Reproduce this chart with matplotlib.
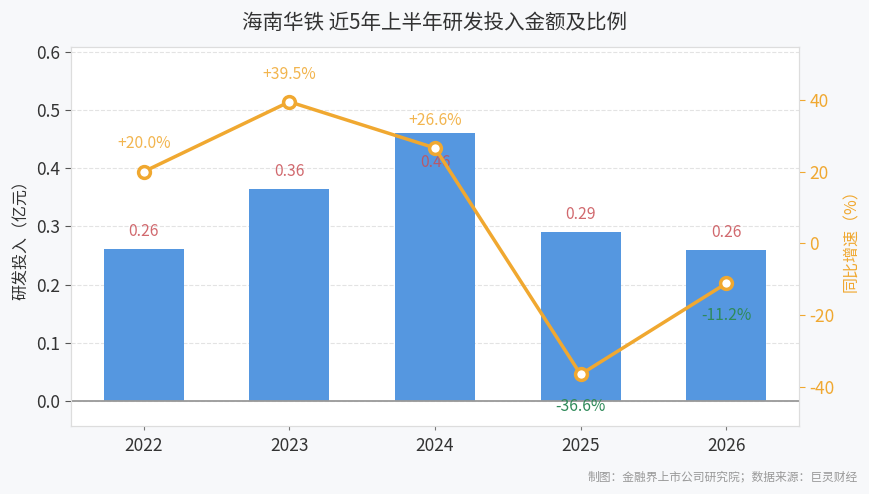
import matplotlib

matplotlib.use("Agg")
import matplotlib.pyplot as plt
import numpy as np

plt.rcParams["font.family"] = ["Noto Sans CJK SC", "DejaVu Sans"]
plt.rcParams["axes.unicode_minus"] = False

years = ["2022", "2023", "2024", "2025", "2026"]
rd_spend = [0.261, 0.364, 0.461, 0.290, 0.260]       # 亿元
rd_labels = ["0.26", "0.36", "0.46", "0.29", "0.26"]
yoy = [20.0, 39.5, 26.6, -36.6, -11.2]                # %

BAR = "#5597e0"
LINE = "#f0a830"
RED = "#c94f55"
GREEN = "#2f8a5a"
GRID = "#e3e3e3"
BG = "#f7f8fa"

fig = plt.figure(figsize=(8.7, 4.94), dpi=100, facecolor=BG)
ax = fig.add_axes([0.0816, 0.1377, 0.8368, 0.7672])
ax.set_facecolor("white")
x = np.arange(len(years))

ax.bar(x, rd_spend, width=0.55, color=BAR, zorder=2)
ax.axhline(0, color="#999999", lw=1.3, zorder=3)
for xi, v, s in zip(x, rd_spend, rd_labels):
    ax.text(xi, min(v + 0.03, 0.41), s, ha="center", va="center",
            fontsize=11.3, color=RED, alpha=0.85, zorder=4)

ax.set_xlim(-0.5, 4.5)
ax.set_ylim(-0.043, 0.6085)
ax.set_yticks(np.arange(0, 0.61, 0.1))
ax.set_yticklabels([f"{t:.1f}" for t in np.arange(0, 0.61, 0.1)])
ax.set_xticks(x)
ax.set_xticklabels(years)
ax.yaxis.grid(True, ls="--", color=GRID, lw=0.8, zorder=0)
ax.tick_params(axis="y", labelsize=12.5, colors="#333333", length=4, color="#555555")
ax.tick_params(axis="x", labelsize=12.5, colors="#333333", length=3, pad=5,
               color="#777777")
ax.set_ylabel("研发投入（亿元）", fontsize=11.5, color="#333333", labelpad=5)
for sp in ax.spines.values():
    sp.set_color("#dddddd")

ax2 = ax.twinx()
ax2.plot(x, yoy, color=LINE, lw=2.5, marker="o", ms=8.5, mfc="white",
         mec=LINE, mew=2.5, zorder=5)
for xi, g in zip(x, yoy):
    if g >= 0:
        ax2.annotate(f"+{g:.1f}%", (xi, g), xytext=(0, 20), textcoords="offset points",
                     ha="center", va="center", fontsize=11.3, color=LINE, alpha=0.85)
    else:
        ax2.annotate(f"{g:.1f}%", (xi, g), xytext=(0, -23), textcoords="offset points",
                     ha="center", va="center", fontsize=11.3, color=GREEN)
ax2.set_ylim(-51, 54.8)
ax2.set_yticks([-40, -20, 0, 20, 40])
ax2.tick_params(axis="y", labelsize=12.5, colors=LINE, length=4, color=LINE)
ax2.set_ylabel("同比增速（%）", fontsize=11.5, color=LINE, labelpad=6)
for sp in ax2.spines.values():
    sp.set_color("#dddddd")

fig.text(0.5, 0.953, "海南华铁 近5年上半年研发投入金额及比例", ha="center", va="center",
         fontsize=14.8, fontweight="medium", color="#333333")
fig.text(0.986, 0.035, "制图：金融界上市公司研究院；数据来源：巨灵财经", ha="right",
         va="center", fontsize=8.5, color="#999999")

fig.savefig("out.png", dpi=100, facecolor=BG)
